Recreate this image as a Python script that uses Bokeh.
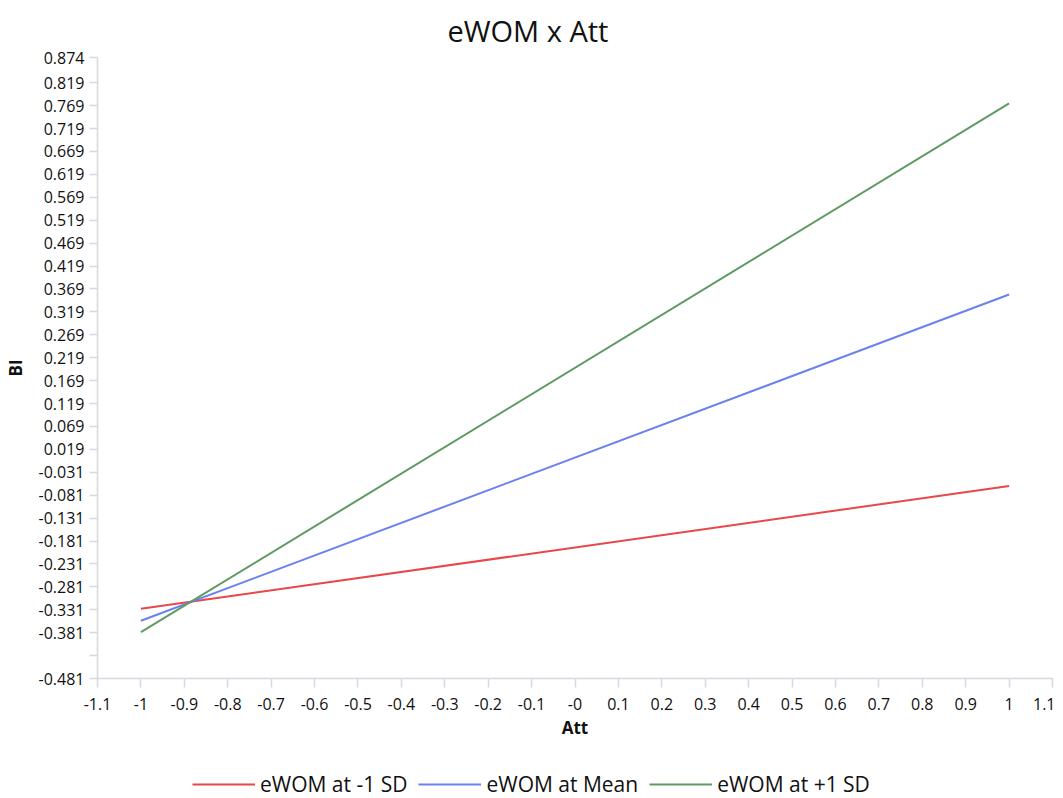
from bokeh.plotting import figure
from bokeh.layouts import column
from bokeh.models import FixedTicker, Legend, LegendItem, Range1d
from bokeh.embed import file_html
from bokeh.resources import INLINE

# ---- data ----
att = [-1, 1]
bi_minus_sd = [-0.329, -0.061]
bi_mean = [-0.355, 0.357]
bi_plus_sd = [-0.380, 0.774]
series_names = ["eWOM at -1 SD", "eWOM at Mean", "eWOM at +1 SD"]
series_colors = ["#e8474b", "#6a82ee", "#5f9a62"]

x_ticks = [-1.1, -1.0, -0.9, -0.8, -0.7, -0.6, -0.5, -0.4, -0.3, -0.2, -0.1, 0.0,
           0.1, 0.2, 0.3, 0.4, 0.5, 0.6, 0.7, 0.8, 0.9, 1.0, 1.1]
x_tick_labels = ["-1.1", "-1", "-0.9", "-0.8", "-0.7", "-0.6", "-0.5", "-0.4", "-0.3", "-0.2",
                 "-0.1", "-0", "0.1", "0.2", "0.3", "0.4", "0.5", "0.6", "0.7", "0.8", "0.9",
                 "1", "1.1"]
y_ticks = [-0.481, -0.431, -0.381, -0.331, -0.281, -0.231, -0.181, -0.131, -0.081, -0.031,
           0.019, 0.069, 0.119, 0.169, 0.219, 0.269, 0.319, 0.369, 0.419, 0.469, 0.519,
           0.569, 0.619, 0.669, 0.719, 0.769, 0.819, 0.874]
y_tick_labels = ["-0.481", "", "-0.381", "-0.331", "-0.281", "-0.231", "-0.181", "-0.131",
                 "-0.081", "-0.031", "0.019", "0.069", "0.119", "0.169", "0.219", "0.269",
                 "0.319", "0.369", "0.419", "0.469", "0.519", "0.569", "0.619", "0.669",
                 "0.719", "0.769", "0.819", "0.874"]

FONT = "Open Sans"
AXIS_COLOR = "#d8d8e0"
TEXT_COLOR = "#111111"

p = figure(width=1055, height=768, output_backend="svg", toolbar_location=None,
           x_range=Range1d(-1.1, 1.1), y_range=Range1d(-0.481, 0.874),
           min_border_left=97, min_border_right=3, min_border_top=57, min_border_bottom=90)

p.title.text = "eWOM x Att"
p.title.text_font = FONT
p.title.text_font_size = "29px"
p.title.text_font_style = "normal"
p.title.text_color = "#111111"
p.title.align = "left"
p.title.offset = 350
p.title.standoff = 15

p.outline_line_color = None
p.xgrid.visible = False
p.ygrid.visible = False

for ax in (p.xaxis[0], p.yaxis[0]):
    ax.axis_line_color = AXIS_COLOR
    ax.major_tick_line_color = AXIS_COLOR
    ax.major_tick_line_width = 1.5
    ax.axis_line_width = 1.5
    ax.minor_tick_line_color = None
    ax.major_tick_in = 0
    ax.major_label_text_font = FONT
    ax.major_label_text_font_size = "16px"
    ax.major_label_text_color = TEXT_COLOR
    ax.axis_label_text_font = FONT
    ax.axis_label_text_font_size = "17px"
    ax.axis_label_text_font_style = "bold"
    ax.axis_label_text_color = "#111111"

p.xaxis.ticker = FixedTicker(ticks=x_ticks)
p.xaxis.major_label_overrides = dict(zip(x_ticks, x_tick_labels))
p.xaxis.major_tick_out = 9
p.xaxis.major_label_standoff = 10
p.xaxis.axis_label = "Att"
p.xaxis.axis_label_standoff = 3

p.yaxis.ticker = FixedTicker(ticks=y_ticks)
p.yaxis.major_label_overrides = dict(zip(y_ticks, y_tick_labels))
p.yaxis.major_tick_out = 8
p.yaxis.major_label_standoff = 5
p.yaxis.axis_label = "BI"
p.yaxis.axis_label_standoff = 9

for ys, color in zip([bi_minus_sd, bi_mean, bi_plus_sd], series_colors):
    p.line(att, ys, line_color=color, line_width=2)

# legend strip: a second, axis-less figure whose proxy lines lie outside its view
lg = figure(width=1055, height=30, output_backend="svg", toolbar_location=None,
            x_range=Range1d(10, 11), y_range=Range1d(10, 11),
            min_border_left=0, min_border_right=0, min_border_top=0, min_border_bottom=0)
lg.axis.visible = False
lg.grid.visible = False
lg.outline_line_color = None
proxies = [lg.line(att, ys, line_color=c, line_width=2)
           for ys, c in zip([bi_minus_sd, bi_mean, bi_plus_sd], series_colors)]
legend = Legend(items=[LegendItem(label=n, renderers=[r]) for n, r in zip(series_names, proxies)],
                orientation="horizontal", location=(95, 0),
                glyph_width=63, glyph_height=18, label_height=18, label_standoff=5, spacing=11,
                padding=0, margin=0, border_line_color=None, background_fill_alpha=0,
                label_text_font=FONT, label_text_font_size="21px", label_text_color=TEXT_COLOR)
lg.add_layout(legend, "center")

open("out.html", "w").write(file_html(column(p, lg, spacing=0), INLINE))
